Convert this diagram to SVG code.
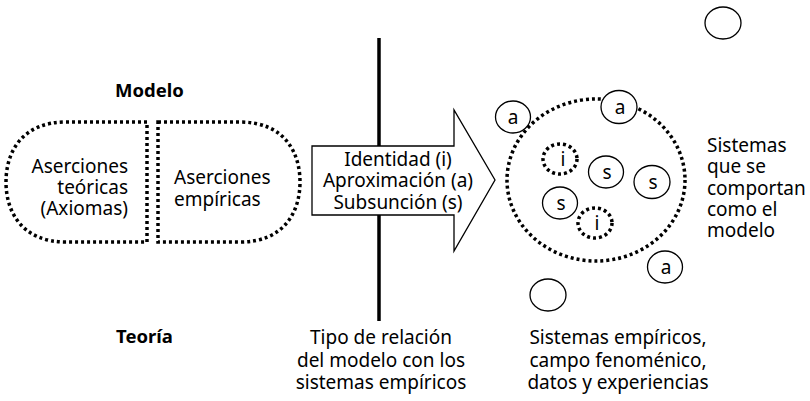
<svg xmlns="http://www.w3.org/2000/svg" width="810" height="401" viewBox="0 0 810 401">
<style>
text{font-family:"Noto Sans","Open Sans","Liberation Sans",sans-serif;font-size:19px;fill:#000}
.b{font-weight:bold;font-size:18.5px}
.m{text-anchor:middle}
.r{text-anchor:end}
.dot{fill:none;stroke:#000;stroke-width:3.5;stroke-dasharray:3 3}
.sdot{fill:#fff;stroke:#000;stroke-width:3.5;stroke-dasharray:3 3}
.c{fill:#fff;stroke:#000;stroke-width:1.3}
</style>
<rect width="810" height="401" fill="#fff"/>
<text class="b m" x="149.5" y="97">Modelo</text>
<text class="b m" x="144.5" y="343">Teoría</text>
<g id="teoricas">
<path class="dot" d="M147,122 H66 C22,122 6,152 6,182 C6,212 22,242 66,242 H147 Z"/>
<text class="r" x="128" y="173">Aserciones</text>
<text class="r" x="128" y="194">teóricas</text>
<text class="r" x="128" y="215">(Axiomas)</text>
</g>
<g id="empiricas">
<path class="dot" d="M158,122 H240 C284,122 300,152 300,182 C300,212 284,242 240,242 H158 Z"/>
<text x="174" y="184">Aserciones</text>
<text x="174" y="206">empíricas</text>
</g>
<g id="connectors">
<line x1="379" y1="38" x2="379" y2="321" stroke="#000" stroke-width="3.5"/>
</g>
<g id="relacion">
<path d="M312,146 H454 V110 L495,180 L454,251 V215 H312 Z" fill="#fff" stroke="#000" stroke-width="1.3"/>
<text class="m" x="398" y="166">Identidad (i)</text>
<text class="m" x="398" y="187">Aproximación (a)</text>
<text class="m" x="398" y="209">Subsunción (s)</text>
</g>
<g id="sistemas">
<ellipse class="dot" cx="596" cy="180" rx="89" ry="81"/>
<ellipse class="c" cx="723" cy="23" rx="18" ry="16"/>
<ellipse class="c" cx="548" cy="295" rx="18" ry="16"/>
<g id="a1"><ellipse class="c" cx="513" cy="117" rx="17.5" ry="16"/><text class="m" x="513" y="124">a</text></g>
<g id="a2"><ellipse class="c" cx="619" cy="107" rx="18" ry="16.5"/><text class="m" x="620" y="114">a</text></g>
<g id="a3"><ellipse class="c" cx="665" cy="267" rx="17.5" ry="16"/><text class="m" x="666" y="274">a</text></g>
<g id="s1"><ellipse class="c" cx="606" cy="172" rx="17.5" ry="16"/><text class="m" x="607" y="179">s</text></g>
<g id="s2"><ellipse class="c" cx="652" cy="182" rx="18" ry="16.5"/><text class="m" x="653" y="189">s</text></g>
<g id="s3"><ellipse class="c" cx="560" cy="203" rx="17.5" ry="16"/><text class="m" x="561" y="210">s</text></g>
<g id="i1"><ellipse class="sdot" cx="560" cy="159" rx="17" ry="15"/><text class="m" x="563" y="166">i</text></g>
<g id="i2"><ellipse class="sdot" cx="595" cy="223" rx="17" ry="15"/><text class="m" x="597" y="230">i</text></g>
<text x="707" y="152">Sistemas</text>
<text x="707" y="173">que se</text>
<text x="707" y="195">comportan</text>
<text x="707" y="216">como el</text>
<text x="707" y="237">modelo</text>
</g>
<g id="labels">
<text class="m" x="381" y="344">Tipo de relación</text>
<text class="m" x="381" y="367">del modelo con los</text>
<text class="m" x="381" y="389">sistemas empíricos</text>
<text class="m" x="618" y="344">Sistemas empíricos,</text>
<text class="m" x="618" y="367">campo fenoménico,</text>
<text class="m" x="618" y="389">datos y experiencias</text>
</g>
</svg>
